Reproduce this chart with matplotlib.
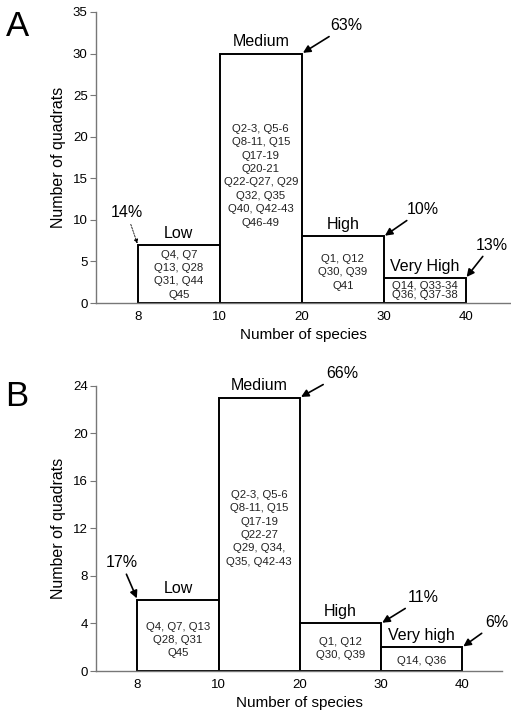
import matplotlib.pyplot as plt

plt.rcParams['font.family'] = ['Liberation Sans', 'DejaVu Sans']

# bin edges shown on the x axis, bars sit between neighbouring edges
bin_edges = ["8", "10", "20", "30", "40"]

# panel A
classes_a = ["Low", "Medium", "High", "Very High"]
counts_a = [7, 30, 8, 3]
pct_a = ["14%", "63%", "10%", "13%"]
quads_a = [
    "Q4, Q7\nQ13, Q28\nQ31, Q44\nQ45",
    "Q2-3, Q5-6\nQ8-11, Q15\nQ17-19\nQ20-21\nQ22-Q27, Q29\nQ32, Q35\nQ40, Q42-43\nQ46-49",
    "Q1, Q12\nQ30, Q39\nQ41",
    "Q14, Q33-34\nQ36, Q37-38",
]
quad_y_a = [3.4, 15.3, 3.7, 1.5]

# panel B
classes_b = ["Low", "Medium", "High", "Very high"]
counts_b = [6, 23, 4, 2]
pct_b = ["17%", "66%", "11%", "6%"]
quads_b = [
    "Q4, Q7, Q13\nQ28, Q31\nQ45",
    "Q2-3, Q5-6\nQ8-11, Q15\nQ17-19\nQ22-27\nQ29, Q34,\nQ35, Q42-43",
    "Q1, Q12\nQ30, Q39",
    "Q14, Q36",
]
quad_y_b = [2.6, 12.0, 1.9, 0.85]

axis_col = "#777777"


def draw_panel(ax, classes, counts, pct, quads, quad_y, yticks, ylim, xmax,
               pct_offsets, dashed_first):
    pos = [i + 0.5 for i in range(len(counts))]
    ax.bar(pos, counts, width=1.0, color="white", edgecolor="black", linewidth=1.4)
    for i, (c, q, qy) in enumerate(zip(classes, quads, quad_y)):
        ax.annotate(c, (pos[i], counts[i]), xytext=(0, 3), textcoords="offset points",
                    ha="center", va="bottom", fontsize=11.5)
        # the very high box in A is cramped, its two lines nearly touch
        ls = 0.85 if i == 3 and q.count("\n") == 1 else 1.42
        ax.text(pos[i], qy, q, ha="center", va="center", fontsize=8.2,
                color="#222222", linespacing=ls)
    for i, p in enumerate(pct):
        corner = i if i == 0 else i + 1
        if dashed_first and i == 0:
            props = dict(arrowstyle="-|>", lw=0.6, ls=(0, (2, 1.5)), color="black",
                         mutation_scale=6, shrinkA=1, shrinkB=1)
        else:
            props = dict(arrowstyle="-|>", lw=1.2, color="black",
                         mutation_scale=11, shrinkA=1, shrinkB=1)
        ax.annotate(p, (corner, counts[i]), xytext=pct_offsets[i],
                    textcoords="offset pixels", ha="center", va="center",
                    fontsize=11.5, arrowprops=props, annotation_clip=False)

    ax.set_xlim(-0.51, xmax)
    ax.set_ylim(*ylim)
    ax.set_yticks(yticks)
    ax.set_xticks(range(len(bin_edges)))
    ax.set_xticklabels(bin_edges)
    ax.tick_params(axis="x", length=0, pad=6, labelsize=9.5)
    ax.tick_params(axis="y", length=4, width=0.8, color=axis_col, pad=2, labelsize=9.5)
    for s in ["top", "right"]:
        ax.spines[s].set_visible(False)
    for s in ["left", "bottom"]:
        ax.spines[s].set_color(axis_col)
        ax.spines[s].set_linewidth(1.0)
    ax.set_ylabel("Number of quadrats", fontsize=11.5, labelpad=5)
    ax.set_xlabel("Number of species", fontsize=11, labelpad=3)


fig = plt.figure(figsize=(5.11, 7.12), dpi=100)
W, H = 511.0, 712.0
ax_a = fig.add_axes([96 / W, 1 - 303 / H, (510 - 96) / W, (303 - 12) / H])
ax_b = fig.add_axes([96 / W, 1 - 671 / H, (502 - 96) / W, (671 - 385.7) / H])

draw_panel(ax_a, classes_a, counts_a, pct_a, quads_a, quad_y_a,
           [0, 5, 10, 15, 20, 25, 30, 35], (0, 35), 4.54,
           [(-11, 32), (45, 28), (39, 27), (26, 33)], True)
draw_panel(ax_b, classes_b, counts_b, pct_b, quads_b, quad_y_b,
           [0, 4, 8, 12, 16, 20, 24], (0, 24), 4.49,
           [(-16, 37), (43, 24), (42, 26), (35, 25)], False)

fig.text(6 / W, 1 - 10 / H, "A", fontsize=25, ha="left", va="top")
fig.text(5 / W, 1 - 380 / H, "B", fontsize=25, ha="left", va="top")

fig.savefig("out.png", dpi=100)
